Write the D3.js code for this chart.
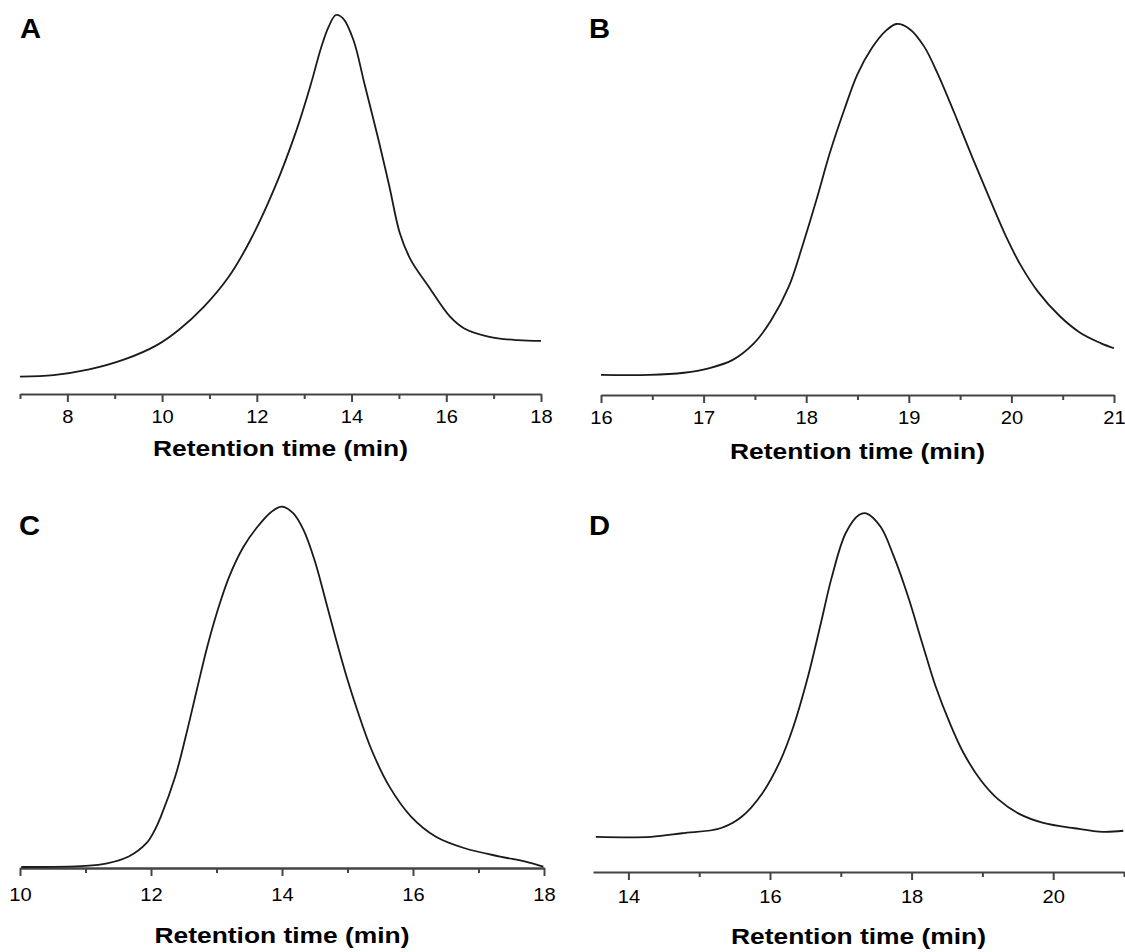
<!DOCTYPE html>
<html>
<head>
<meta charset="utf-8">
<script src="https://cdn.jsdelivr.net/npm/d3@7"></script>
<style>
  body { margin: 0; background: #fff; }
  text { font-family: "Liberation Sans", Arial, sans-serif; fill: #000; }
</style>
</head>
<body>
<div id="chart"></div>
<script>
// retention time (min) and detector signal (% of peak)
var timeA = [7.0, 7.71, 8.46, 9.22, 9.89, 10.35, 10.88, 11.40, 11.86, 12.38, 12.84, 13.14, 13.36, 13.52, 13.67,
  13.82, 14.04, 14.27, 14.57, 14.80, 15.02, 15.25, 15.63, 16.08, 16.38, 16.91, 17.51, 18.0];
var signalA = [4.6, 5.0, 6.5, 9.2, 12.9, 16.9, 23.0, 30.8, 40.5, 54.5, 69.7, 81.7, 91.5, 97.0, 100,
  99.1, 93.4, 82.0, 67.0, 54.7, 42.4, 35.4, 28.3, 20.4, 17.3, 15.1, 14.2, 14.0];

var timeB = [16.0, 16.47, 16.81, 17.05, 17.28, 17.49, 17.66, 17.83, 17.96, 18.10, 18.23, 18.37, 18.50, 18.64, 18.77,
  18.88, 19.01, 19.15, 19.28, 19.45, 19.62, 19.79, 19.96, 20.09, 20.26, 20.47, 20.67, 20.87, 21.0];
var signalB = [5.4, 5.4, 6.0, 7.2, 9.4, 13.9, 20.2, 29.2, 39.9, 52.6, 65.2, 76.8, 86.5, 93.5, 98.0,
  100, 98.6, 93.9, 86.7, 75.6, 64.0, 52.8, 42.0, 35.0, 27.8, 21.3, 16.8, 14.0, 12.6];

var timeC = [10.02, 11.0, 11.33, 11.66, 11.93, 12.05, 12.15, 12.37, 12.53, 12.70, 12.86, 13.02, 13.19, 13.41, 13.62, 13.84,
  14.0, 14.17, 14.33, 14.50, 14.66, 14.82, 14.99, 15.15, 15.37, 15.64, 15.97, 16.35, 16.79, 17.33, 17.72, 17.99];
var signalC = [0, 0.3, 1.0, 2.9, 6.6, 10.0, 14.0, 25.1, 36.2, 49.2, 61.2, 71.4, 80.4, 88.8, 94.3, 98.6,
  100, 98.2, 93.5, 85.0, 74.4, 63.5, 52.6, 43.5, 32.4, 22.3, 14.0, 8.4, 5.2, 2.9, 1.5, 0.1];

var timeD = [13.54, 14.32, 14.76, 15.30, 15.60, 15.89, 16.14, 16.33, 16.53, 16.72, 16.87, 17.07, 17.26, 17.36,
  17.56, 17.75, 17.95, 18.15, 18.34, 18.54, 18.73, 18.98, 19.22, 19.52, 19.86, 20.30, 20.70, 20.99];
var signalD = [9.8, 9.8, 10.8, 12.2, 15.4, 21.9, 30.8, 40.5, 54.0, 69.5, 82.0, 94.5, 99.6, 100,
  96.3, 87.9, 76.8, 63.8, 51.7, 41.5, 33.3, 25.5, 20.3, 16.2, 13.7, 12.2, 11.2, 11.5];

var ticksA = [8, 10, 12, 14, 16, 18], minorA = [7, 9, 11, 13, 15, 17];
var ticksB = [16, 17, 18, 19, 20, 21], minorB = [16.5, 17.5, 18.5, 19.5, 20.5];
var ticksC = [10, 12, 14, 16, 18], minorC = [11, 13, 15, 17];
var ticksD = [14, 16, 18, 20], minorD = [15, 17, 19, 21];

var labels = ["A", "B", "C", "D"];
var xTitle = "Retention time (min)";

var width = 1125, height = 952;

var svg = d3.select("#chart")
  .append("svg")
  .attr("width", width)
  .attr("height", height)
  .style("background", "#fff");

// layout of each panel in page pixels
var panels = [
  {label: labels[0], t: timeA, s: signalA, ticks: ticksA, minor: minorA, dom: [7, 18], x0: 20, x1: 541,
    axisY: 394, top: 15, tickY: 29, titleY: 62, lx: 20, ly: 38, axisW: 2, base: 394},
  {label: labels[1], t: timeB, s: signalB, ticks: ticksB, minor: minorB, dom: [16, 21], x0: 601, x1: 1114,
    axisY: 395, top: 24, tickY: 29, titleY: 64, lx: 589, ly: 38, axisW: 2, base: 395},
  {label: labels[2], t: timeC, s: signalC, ticks: ticksC, minor: minorC, dom: [10, 18], x0: 20, x1: 544,
    axisY: 868, top: 506.7, tickY: 33, titleY: 75, lx: 19, ly: 535, axisW: 2.5, base: 867},
  {label: labels[3], t: timeD, s: signalD, ticks: ticksD, minor: minorD, dom: [13.5, 21], x0: 593, x1: 1124,
    axisY: 872, top: 513.3, tickY: 31, titleY: 72, lx: 589, ly: 535, axisW: 2, base: 872}
];

panels.forEach(function(p) {
  var x = d3.scaleLinear().domain(p.dom).range([p.x0, p.x1]);
  var y = d3.scaleLinear().domain([0, 100]).range([p.base, p.top]);

  var g = svg.append("g");

  // minor ticks
  g.append("g")
    .attr("transform", "translate(0," + p.axisY + ")")
    .call(d3.axisBottom(x).tickValues(p.minor).tickSize(5).tickSizeOuter(0).tickFormat(""))
    .call(function(a) {
      a.select(".domain").remove();
      a.selectAll("line").attr("stroke", "#444").attr("stroke-width", 2);
    });

  // major ticks + axis line
  g.append("g")
    .attr("transform", "translate(0," + p.axisY + ")")
    .call(d3.axisBottom(x).tickValues(p.ticks).tickSize(8).tickSizeOuter(0).tickFormat(d3.format("d")))
    .call(function(a) {
      a.select(".domain").attr("stroke", "#444").attr("stroke-width", p.axisW);
      a.selectAll("line").attr("stroke", "#444").attr("stroke-width", 2);
      a.selectAll("text")
        .attr("y", 0).attr("dy", 0)
        .attr("transform", "translate(0," + p.tickY + ") scale(1.15,1)")
        .style("font-size", "17.5px")
        .attr("fill", "#000");
    });

  // trace
  var line = d3.line()
    .x(function(d, i) { return x(p.t[i]); })
    .y(function(d) { return y(d); })
    .curve(d3.curveCatmullRom.alpha(0.5));

  g.append("path")
    .datum(p.s)
    .attr("d", line)
    .attr("fill", "none")
    .attr("stroke", "#1a1a1a")
    .attr("stroke-width", 1.8);

  // axis title
  g.append("text")
    .attr("transform", "translate(" + ((p.x0 + p.x1) / 2) + "," + (p.axisY + p.titleY) + ") scale(1.2,1)")
    .attr("text-anchor", "middle")
    .style("font-size", "22px")
    .style("font-weight", "bold")
    .text(xTitle);

  // panel letter
  g.append("text")
    .attr("transform", "translate(" + p.lx + "," + p.ly + ") scale(1.08,1)")
    .style("font-size", "27px")
    .style("font-weight", "bold")
    .text(p.label);
});
</script>
</body>
</html>
